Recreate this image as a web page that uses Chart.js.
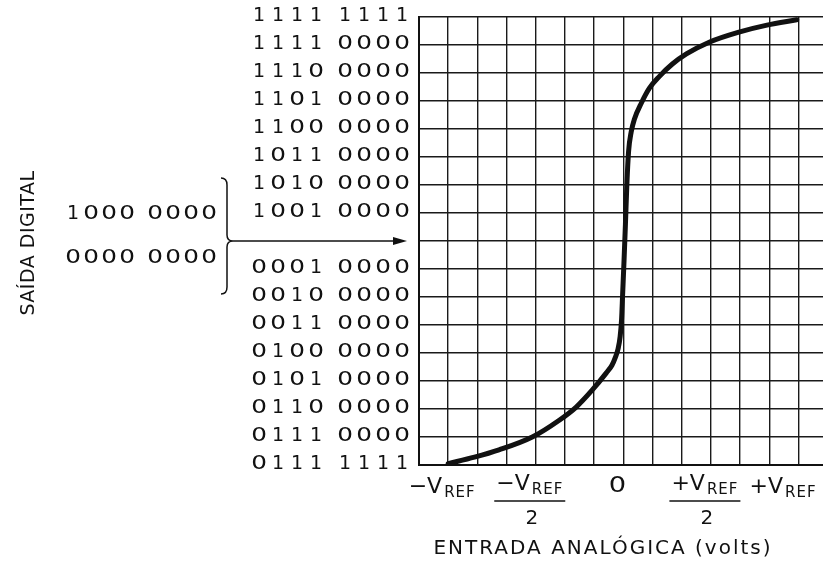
<!DOCTYPE html>
<html>
<head>
<meta charset="utf-8">
<script src="https://cdn.jsdelivr.net/npm/chart.js@4"></script>
<style>
  html, body { margin: 0; padding: 0; background: #fff; }
</style>
</head>
<body>
<canvas id="adcChart" width="823" height="572"></canvas>
<script>
// --- DATA ---
// output codes, index = grid row from the bottom (row 8 is the bipolar zero, marked by the arrow)
const outputCodes = [
    '0111 1111', '0111 0000', '0110 0000', '0101 0000', '0100 0000', '0011 0000', '0010 0000', '0001 0000',
    '',
    '1001 0000', '1010 0000', '1011 0000', '1100 0000', '1101 0000', '1110 0000', '1111 0000', '1111 1111'
];
const zeroCodes = ['1000 0000', '0000 0000'];

// analog input in units of VREF
const xTickValues = [-1, -0.5, 0, 0.5, 1];
const xTickLabels = ['−V_REF', '−V_REF/2', '0', '+V_REF/2', '+V_REF'];
const gridX = [-7, -6, -5, -4, -3, -2, -1, 0, 1, 2, 3, 4, 5, 6].map(k => k / 6);

// transfer curve
const curveX = [-1.0, -0.85, -0.71, -0.52, -0.366, -0.269, -0.177, -0.097, -0.065, -0.045, -0.03, -0.018, -0.01, -0.004, 0.004, 0.012, 0.02, 0.03, 0.045, 0.063, 0.103, 0.149, 0.206, 0.28, 0.36, 0.49, 0.66, 0.82, 0.99];
const curveY = [0.05, 0.28, 0.54, 1.0, 1.6, 2.07, 2.68, 3.29, 3.56, 3.85, 4.15, 4.6, 5.2, 6.1, 7.3, 8.6, 10.0, 11.2, 11.9, 12.35, 12.93, 13.46, 13.88, 14.32, 14.68, 15.1, 15.46, 15.71, 15.9];

const yTitle = 'SAÍDA DIGITAL';
const xTitle = 'ENTRADA ANALÓGICA (volts)';

const INK = '#111';
const FONT = '"DejaVu Sans", sans-serif';

// draws a code like "1010 0000" one glyph at a time, zeros a bit rounder
function drawCode(ctx, code, rightX, y, pitch, gap) {
    const groups = code.split(' ');
    groups.forEach((g, gi) => {
        const chars = g.split('');
        chars.forEach((c, ci) => {
            const fromRight = (groups.length - 1 - gi) * (3 * pitch + gap) + (chars.length - 1 - ci) * pitch;
            const cx = rightX - fromRight;
            ctx.save();
            ctx.translate(cx, y);
            if (c === '0') ctx.scale(1.3, 1);
            ctx.fillText(c, 0, 0);
            ctx.restore();
        });
    });
}

// "−V_REF" style label: sign + V, subscript REF
function drawVref(ctx, text, cx, y) {
    const m = text.match(/^([−+]?)(V)_(REF)$/);
    if (!m) {
        ctx.font = '21px ' + FONT;
        ctx.textAlign = 'center';
        ctx.save(); ctx.translate(cx, y); ctx.scale(1.3, 1); ctx.fillText(text, 0, 0); ctx.restore();
        return;
    }
    ctx.font = '22px ' + FONT;
    const wMain = ctx.measureText(m[1] + m[2]).width;
    ctx.font = '15px ' + FONT;
    ctx.letterSpacing = '1px';
    const wSub = ctx.measureText(m[3]).width;
    const left = cx - (wMain + 2 + wSub) / 2;
    ctx.textAlign = 'left';
    ctx.font = '22px ' + FONT;
    ctx.letterSpacing = '0px';
    ctx.fillText(m[1] + m[2], left, y);
    ctx.font = '15px ' + FONT;
    ctx.letterSpacing = '1px';
    ctx.fillText(m[3], left + wMain + 2, y + 6);
    ctx.letterSpacing = '0px';
    return wMain + 2 + wSub;
}

const decorations = {
    id: 'decorations',
    afterDraw(chart) {
        const ctx = chart.ctx;
        const xs = chart.scales.x, ys = chart.scales.y;
        const area = chart.chartArea;
        ctx.save();
        ctx.fillStyle = INK;
        ctx.strokeStyle = INK;
        ctx.textBaseline = 'middle';

        // output code labels
        ctx.font = '19px ' + FONT;
        ctx.textAlign = 'center';
        outputCodes.forEach((code, i) => {
            if (!code) return;
            drawCode(ctx, code, area.left - 17, ys.getPixelForValue(i) - 1, 19, 29);
        });

        // arrow at mid scale
        const yMid = ys.getPixelForValue(8);
        ctx.lineWidth = 1.6;
        ctx.beginPath();
        ctx.moveTo(233, yMid);
        ctx.lineTo(area.left - 20, yMid);
        ctx.stroke();
        ctx.beginPath();
        ctx.moveTo(area.left - 12, yMid);
        ctx.lineTo(area.left - 26, yMid - 4);
        ctx.lineTo(area.left - 26, yMid + 4);
        ctx.closePath();
        ctx.fill();

        // brace "}"
        const bx = 227, top = yMid - 63, bot = yMid + 53;
        ctx.lineWidth = 1.5;
        ctx.beginPath();
        ctx.moveTo(bx - 6, top);
        ctx.quadraticCurveTo(bx, top, bx, top + 7);
        ctx.lineTo(bx, yMid - 6);
        ctx.quadraticCurveTo(bx, yMid, bx + 6, yMid);
        ctx.quadraticCurveTo(bx, yMid, bx, yMid + 6);
        ctx.lineTo(bx, bot - 7);
        ctx.quadraticCurveTo(bx, bot, bx - 6, bot);
        ctx.stroke();

        // codes beside the brace
        ctx.font = '19px ' + FONT;
        drawCode(ctx, zeroCodes[0], 209, yMid - 27, 18, 28);
        drawCode(ctx, zeroCodes[1], 209, yMid + 17, 18, 28);

        // x tick labels
        xTickValues.forEach((v, i) => {
            let cx = xs.getPixelForValue(v) - 6;
            const [num, den] = xTickLabels[i].split('/');
            if (cx + 40 > chart.width) cx = chart.width - 40;
            if (den) {
                const w = drawVref(ctx, num, cx, area.bottom + 19);
                ctx.lineWidth = 1.5;
                ctx.beginPath();
                ctx.moveTo(cx - w / 2 - 2, area.bottom + 36);
                ctx.lineTo(cx + w / 2 + 2, area.bottom + 36);
                ctx.stroke();
                ctx.font = '20px ' + FONT;
                ctx.textAlign = 'center';
                ctx.fillText(den, cx + 2, area.bottom + 54);
            } else {
                drawVref(ctx, num, cx, area.bottom + 22);
            }
        });

        // axis titles
        ctx.font = '20px ' + FONT;
        ctx.textAlign = 'center';
        ctx.letterSpacing = '2px';
        ctx.fillText(xTitle, 603, area.bottom + 84);

        ctx.translate(29, 243);
        ctx.rotate(-Math.PI / 2);
        ctx.font = '19px ' + FONT;
        ctx.letterSpacing = '0.5px';
        ctx.fillText(yTitle, 0, 0);
        ctx.restore();
    }
};

const ctx = document.getElementById('adcChart').getContext('2d');
new Chart(ctx, {
    type: 'line',
    data: {
        datasets: [{
            data: curveX.map((x, i) => ({ x: x, y: curveY[i] })),
            borderColor: INK,
            borderWidth: 5,
            pointRadius: 0,
            fill: false,
            cubicInterpolationMode: 'monotone',
            borderCapStyle: 'round'
        }]
    },
    options: {
        responsive: false,
        animation: false,
        layout: { padding: { left: 419, top: 17, right: 0, bottom: 107 } },
        plugins: { legend: { display: false }, tooltip: { enabled: false } },
        scales: {
            x: {
                type: 'linear',
                min: -7 / 6,
                max: 1.14,
                afterBuildTicks: s => { s.ticks = gridX.map(v => ({ value: v })); },
                ticks: { display: false },
                grid: { color: '#1a1a1a', lineWidth: 1.4, drawTicks: false },
                border: { color: INK, width: 2 }
            },
            y: {
                type: 'linear',
                min: 0,
                max: 16,
                afterBuildTicks: s => { s.ticks = outputCodes.map((c, i) => ({ value: i })); },
                ticks: { display: false },
                grid: { color: '#1a1a1a', lineWidth: 1.4, drawTicks: false },
                border: { color: INK, width: 2 }
            }
        }
    },
    plugins: [decorations]
});
</script>
</body>
</html>
